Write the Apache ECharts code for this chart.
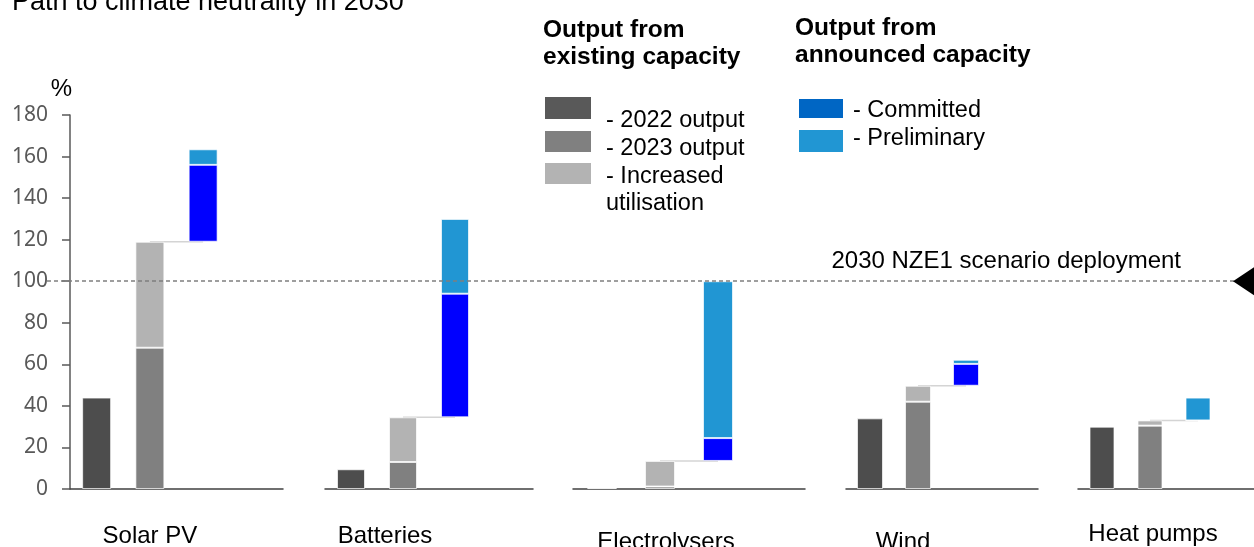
<!DOCTYPE html>
<html>
<head>
<meta charset="utf-8">
<script src="https://cdn.jsdelivr.net/npm/echarts@6/dist/echarts.min.js"></script>
<style>
  html, body { margin: 0; padding: 0; background: #fff; }
  #chart { width: 1254px; height: 547px; }
</style>
</head>
<body>
<div id="chart"></div>
<script>
// data (% of 2030 NZE deployment)
var categories = ['Solar PV', 'Batteries', 'Electrolysers', 'Wind', 'Heat pumps'];
var output2022 = [44, 9.5, 0.5, 34, 30];
var output2023 = [68, 13, 1.2, 42, 30.5];
var increasedUtilisation = [51, 21.5, 12.3, 7.7, 2.5];
var committed = [37, 59.5, 11, 10.5, 0];
var preliminary = [7.5, 36, 75.5, 2, 11];
var nzeTarget = 100;
var yMin = 0, yMax = 180, yStep = 20;

// layout of the five small panels
var gridLeft = [70, 325, 573, 846, 1078];
var gridWidth = [213, 208, 232, 192, 192];
var barWidth = [29, 28, 30, 26, 25];
var labelMargin = [35, 35, 41, 41, 33];
var labelShift = [0, -18, 6, -15, 3];
var TOP = 115, HEIGHT = 374;

var colors = {
    y2022: '#4d4d4d',
    y2023: '#808080',
    incr: '#b3b3b3',
    committed: '#0000ff',
    prelim: '#2196d3'
};
var FONT = 'Liberation Sans, Arial, sans-serif';

var grids = [], xAxes = [], yAxes = [], series = [];

categories.forEach(function (name, g) {
    grids.push({left: gridLeft[g], width: gridWidth[g], top: TOP, height: HEIGHT, outerBoundsMode: 'none', containLabel: false});
    var shift = labelShift[g];
    xAxes.push({
        type: 'category',
        gridIndex: g,
        data: ['2022', '2023', 'Announced', ''],
        axisTick: {show: false},
        axisLine: {lineStyle: {color: '#404040', width: 1.5}},
        axisLabel: {
            interval: 0,
            margin: labelMargin[g],
            fontSize: 24,
            fontFamily: FONT,
            color: '#000',
            padding: shift < 0 ? [0, -2 * shift, 0, 0] : [0, 0, 0, 2 * shift],
            formatter: function (v, i) { return i === 1 ? name : ''; }
        }
    });
    yAxes.push({
        type: 'value',
        gridIndex: g,
        min: yMin, max: yMax, interval: yStep,
        show: g === 0,
        name: g === 0 ? '%' : '',
        nameLocation: 'end',
        nameGap: 14,
        nameTextStyle: {fontSize: 24, fontFamily: FONT, color: '#000', align: 'right', padding: [0, -2, 0, 0]},
        splitLine: {show: false},
        axisLine: {show: true, lineStyle: {color: '#595959', width: 1.5}},
        axisTick: {show: true, length: 8, lineStyle: {color: '#595959', width: 1.5}},
        axisLabel: {margin: 22, fontSize: 21, fontFamily: 'Noto Sans', color: '#595959'}
    });

    var existing = output2023[g] + increasedUtilisation[g];
    var stack = 's' + g;
    function bar(sname, data, color) {
        var hidden = color === 'transparent';
        return {
            name: sname, type: 'bar', stack: stack, xAxisIndex: g, yAxisIndex: g,
            barWidth: barWidth[g], z: 2, silent: true,
            itemStyle: {color: color, borderColor: hidden ? 'transparent' : 'rgba(255,255,255,0.7)', borderWidth: hidden ? 0 : 1},
            data: data
        };
    }
    // connector from existing capacity to announced capacity
    series.push({
        type: 'line', xAxisIndex: g, yAxisIndex: g, z: 1, silent: true,
        symbol: 'none', lineStyle: {color: '#d4d4d4', width: 1.5},
        data: ['-', existing, existing, '-']
    });
    series.push(bar('2022 output', [output2022[g], '-', '-', '-'], colors.y2022));
    series.push(bar('2023 output', ['-', output2023[g], '-', '-'], colors.y2023));
    series.push(bar('Increased utilisation', ['-', increasedUtilisation[g], '-', '-'], colors.incr));
    series.push(bar('base', ['-', '-', existing, '-'], 'transparent'));
    series.push(bar('Committed', ['-', '-', committed[g], '-'], colors.committed));
    series.push(bar('Preliminary', ['-', '-', preliminary[g], '-'], colors.prelim));
});

// overlay panel for the NZE reference line
grids.push({left: 47, width: 1201, top: TOP, height: HEIGHT, outerBoundsMode: 'none', containLabel: false});
xAxes.push({type: 'value', gridIndex: 5, min: 0, max: 1, show: false});
yAxes.push({type: 'value', gridIndex: 5, min: yMin, max: yMax, show: false, splitLine: {show: false}});
series.push({
    type: 'line', xAxisIndex: 5, yAxisIndex: 5, data: [], z: 3, silent: true,
    markLine: {
        silent: true,
        symbol: 'none',
        lineStyle: {color: '#7f7f7f', type: [4, 3], width: 1.5},
        label: {
            show: true,
            position: 'insideEndTop',
            distance: [67, 8],
            formatter: '2030 NZE1 scenario deployment',
            fontSize: 24, fontFamily: FONT, color: '#000'
        },
        data: [{yAxis: nzeTarget}]
    },
    markPoint: {
        silent: true,
        symbol: 'triangle',
        symbolRotate: 90,
        symbolSize: [40, 30],
        itemStyle: {color: '#000'},
        label: {show: false},
        data: [{coord: [1, nzeTarget]}]
    }
});

// legend blocks
var legendFont = '23.5px ' + FONT;
var headFont = 'bold 24.5px ' + FONT;
function swatch(x, y, w, h, color) {
    return {type: 'rect', left: x, top: y, shape: {width: w, height: h}, style: {fill: color}};
}
function label(x, y, text, font) {
    return {type: 'text', left: x, top: y, style: {text: text, font: font || legendFont, fill: '#000', lineHeight: 27}};
}

var chart = echarts.init(document.getElementById('chart'));
chart.setOption({
    animation: false,
    title: {
        text: 'Path to climate neutrality in 2030',
        left: 12, top: -11, padding: 0,
        textStyle: {fontSize: 27, fontWeight: 'normal', fontFamily: FONT, color: '#000'}
    },
    grid: grids,
    xAxis: xAxes,
    yAxis: yAxes,
    series: series,
    graphic: [
        label(543, 17, 'Output from\nexisting capacity', headFont),
        label(795, 15, 'Output from\nannounced capacity', headFont),
        swatch(545, 97, 46, 22, '#595959'),
        swatch(545, 131, 46, 21, colors.y2023),
        swatch(545, 163, 46, 21, colors.incr),
        label(606, 107, '- 2022 output'),
        label(606, 135, '- 2023 output'),
        label(606, 163, '- Increased\nutilisation'),
        swatch(799, 99, 44, 19, '#0066c4'),
        swatch(799, 130, 44, 22, colors.prelim),
        label(853, 97, '- Committed'),
        label(853, 125, '- Preliminary')
    ]
});
</script>
</body>
</html>
